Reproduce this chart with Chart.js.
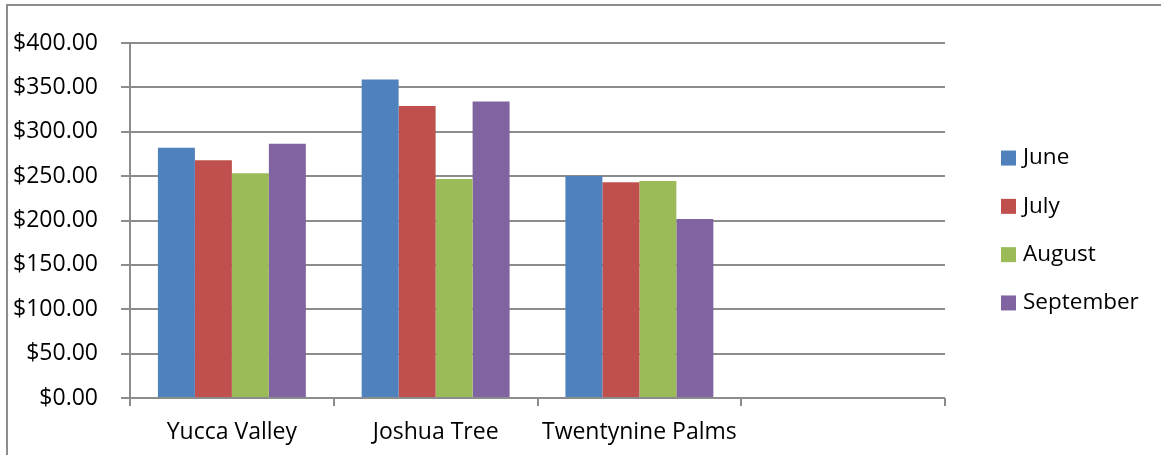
<!DOCTYPE html>
<html>
<head>
<meta charset="utf-8">
<script src="https://cdn.jsdelivr.net/npm/chart.js@4"></script>
<style>
  body { margin: 0; background: #fff; overflow: hidden; }
</style>
</head>
<body>
<canvas id="myChart" width="1161" height="455"></canvas>
<script>
const labels = ['Yucca Valley', 'Joshua Tree', 'Twentynine Palms', ''];
const june = [282.1, 358.9, 250.1];
const july = [267.8, 329.0, 243.0];
const august = [253.2, 246.8, 244.5];
const september = [286.6, 334.0, 201.7];
const seriesNames = ['June', 'July', 'August', 'September'];
const seriesColors = ['#4F81BD', '#C0504D', '#9BBB59', '#8064A2'];
const yTicks = [0, 50, 100, 150, 200, 250, 300, 350, 400];

const gridGray = '#8c8c8c';
const fontFamily = '"Open Sans"';

// frame around the chart (only left and top edges show in the picture)
const framePlugin = {
  id: 'frame',
  beforeDraw(chart) {
    const c = chart.ctx;
    c.save();
    c.fillStyle = '#fff';
    c.fillRect(0, 0, chart.width, chart.height);
    c.fillStyle = gridGray;
    c.fillRect(6, 4, 2, chart.height);
    c.fillRect(6, 4, chart.width, 2);
    c.restore();
  }
};

// Excel style legend on the right, vertically centred in the canvas
const sideLegend = {
  id: 'sideLegend',
  afterDraw(chart) {
    const c = chart.ctx;
    const sets = chart.data.datasets;
    const rowGap = 48.3;
    const x = chart.chartArea.right + 56;
    let y = chart.height / 2 - rowGap * (sets.length - 1) / 2 + 3;
    c.save();
    c.font = '22.5px ' + fontFamily;
    c.textBaseline = 'middle';
    c.textAlign = 'left';
    sets.forEach(ds => {
      c.fillStyle = ds.backgroundColor;
      c.fillRect(x, y - 7.5, 15, 15);
      c.fillStyle = '#000';
      c.fillText(ds.label, x + 22, y);
      y += rowGap;
    });
    c.restore();
  }
};

const ctx = document.getElementById('myChart').getContext('2d');
const values = [june, july, august, september];

const chart = new Chart(ctx, {
  type: 'bar',
  data: {
    labels: labels,
    datasets: seriesNames.map((name, i) => ({
      label: name,
      data: values[i],
      backgroundColor: seriesColors[i],
      borderWidth: 0,
      categoryPercentage: 0.726,
      barPercentage: 1.0
    }))
  },
  options: {
    responsive: false,
    animation: false,
    layout: { padding: { top: 43, right: 216, left: 0, bottom: 0 } },
    plugins: {
      legend: { display: false },
      tooltip: { enabled: false }
    },
    scales: {
      x: {
        afterFit(scale) { scale.height = 57; },
        grid: {
          offset: true,
          drawOnChartArea: false,
          drawTicks: true,
          tickLength: 8,
          color: gridGray,
          lineWidth: 2
        },
        border: { display: false },
        ticks: {
          color: '#000',
          padding: 13,
          font: { family: fontFamily, size: 23 }
        }
      },
      y: {
        min: 0,
        max: 400,
        afterFit(scale) { scale.width = 130; },
        afterBuildTicks(scale) { scale.ticks = yTicks.map(v => ({ value: v })); },
        grid: {
          color: gridGray,
          lineWidth: 2,
          tickLength: 9
        },
        border: { display: true, color: gridGray, width: 2 },
        ticks: {
          color: '#000',
          padding: 23,
          font: { family: fontFamily, size: 23 },
          callback: v => '$' + v.toFixed(2)
        }
      }
    }
  },
  plugins: [framePlugin, sideLegend]
});
</script>
</body>
</html>
